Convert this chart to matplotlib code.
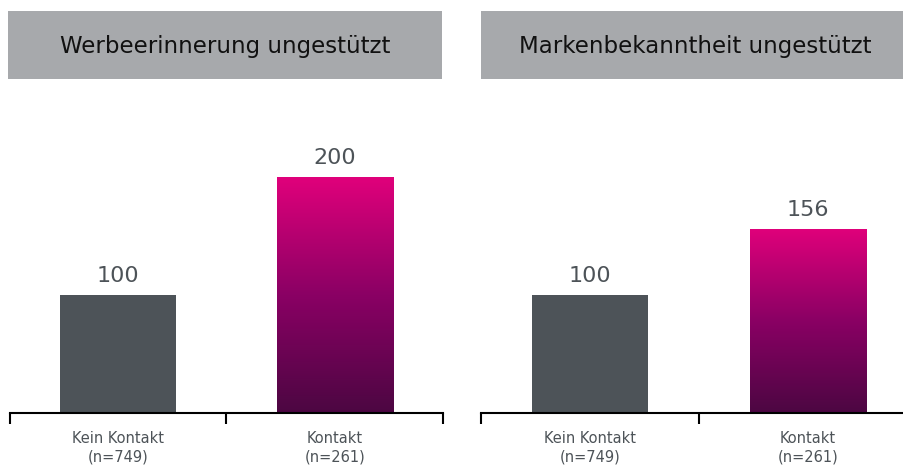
import numpy as np
import matplotlib.pyplot as plt
from matplotlib.colors import LinearSegmentedColormap
from matplotlib.patches import Rectangle

titles = ["Werbeerinnerung ungestützt", "Markenbekanntheit ungestützt"]
categories = ["Kein Kontakt\n(n=749)", "Kontakt\n(n=261)"]
values = [[100, 200], [100, 156]]

W, H = 904, 467
grey_bar = "#4d5358"
text_grey = "#4d5358"
header_grey = "#a7a9ac"
grad = LinearSegmentedColormap.from_list("mag", ["#4c0742", "#8a0064", "#e0007b"])

fig = plt.figure(figsize=(W / 100, H / 100), dpi=100)

# panel positions in pixels: (axis left, axis right, header left, header right, title centre)
panels = [(10, 443, 8, 442, 225), (481, 917, 481, 917, 695)]
bottom_px, top_px = 413, 90
ymax = (bottom_px - top_px) / 1.18


def fx(px):
    return px / W


def fy(py):
    return 1 - py / H


for (al, ar, hl, hr, tc), title, vals in zip(panels, titles, values):
    # header box
    fig.patches.append(Rectangle((fx(hl), fy(79)), fx(hr - hl), (79 - 11) / H,
                                 transform=fig.transFigure, facecolor=header_grey,
                                 edgecolor="none", zorder=0))
    fig.text(fx(tc), fy(46), title, ha="center", va="center", fontsize=16.5, color="#111111")

    ax = fig.add_axes([fx(al), fy(bottom_px), fx(ar - al), (bottom_px - top_px) / H])
    x = np.arange(len(vals))
    bw = 0.536
    bars = ax.bar(x, vals, width=bw, color=[grey_bar, "none"], zorder=2)
    # gradient fill for the Kontakt bar
    b = bars[1]
    img = ax.imshow(np.linspace(0, 1, 256).reshape(-1, 1), cmap=grad, origin="lower",
                    aspect="auto", extent=[x[1] - bw / 2, x[1] + bw / 2, 0, vals[1]],
                    zorder=2)
    img.set_clip_path(b)
    ax.set_xlim(-0.5, 1.5)
    ax.set_ylim(0, ymax)

    for xi, v in zip(x, vals):
        ax.text(xi, v + 7.5, str(v), ha="center", va="bottom", fontsize=16, color=text_grey)

    for s in ["top", "left", "right"]:
        ax.spines[s].set_visible(False)
    ax.spines["bottom"].set_linewidth(1.5)
    ax.set_yticks([])
    ax.set_xticks([-0.5, 0.5, 1.5])
    ax.set_xticklabels([])
    ax.tick_params(axis="x", which="major", direction="out", length=8, width=1.5)
    ax.set_xticks(x, minor=True)
    ax.set_xticklabels(categories, minor=True, fontsize=10.5, color=text_grey,
                       linespacing=1.25)
    ax.tick_params(axis="x", which="minor", length=0, pad=13)

fig.savefig("out.png", dpi=100)
